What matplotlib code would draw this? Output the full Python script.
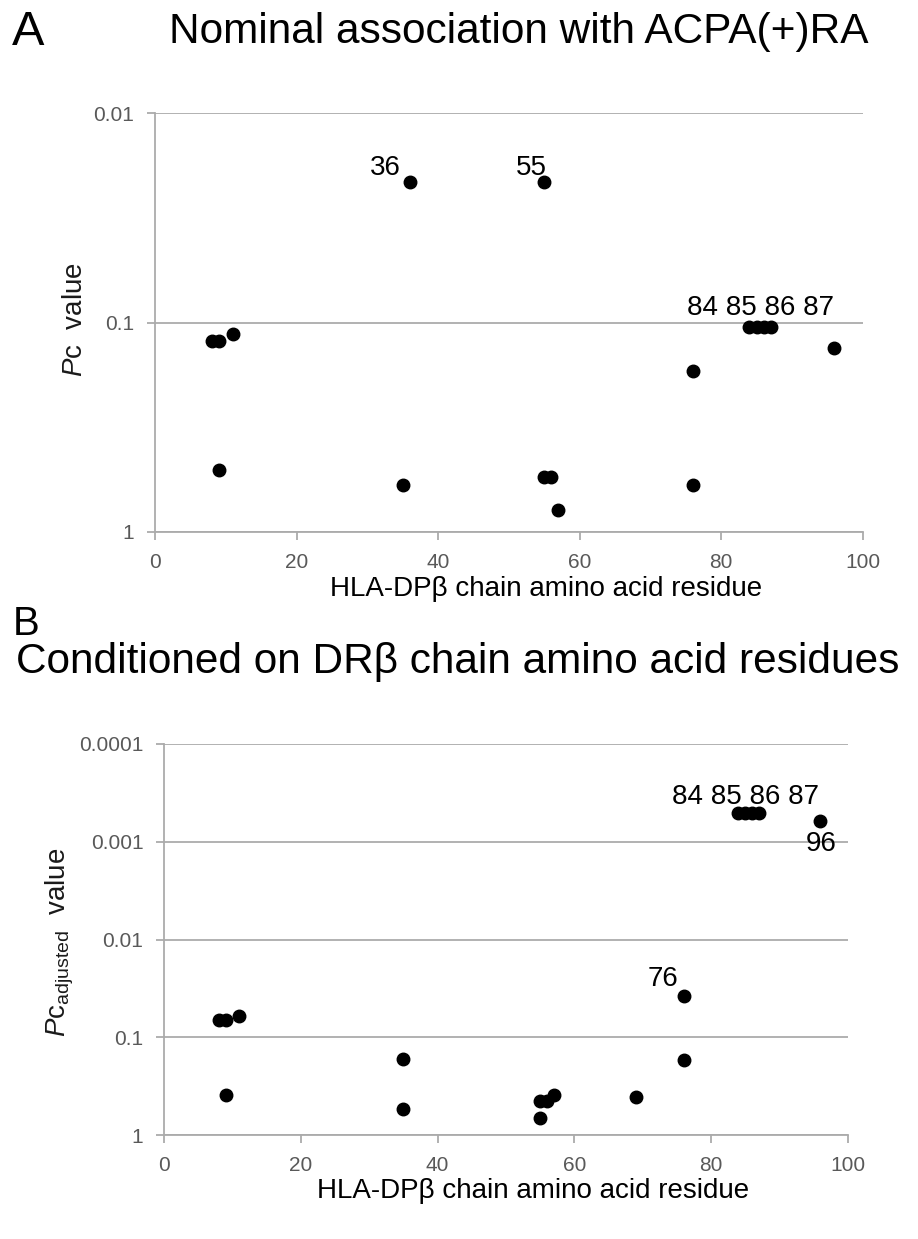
import matplotlib
matplotlib.use("Agg")
import matplotlib.pyplot as plt

plt.rcParams['font.family'] = ['Liberation Sans', 'DejaVu Sans']
plt.rcParams['mathtext.fontset'] = 'custom'
plt.rcParams['mathtext.rm'] = 'Liberation Sans'
plt.rcParams['mathtext.it'] = 'Liberation Sans:italic'

# panel A: nominal association
a_res = [8, 9, 11, 9, 36, 35, 55, 55, 56, 57, 76, 76, 84, 85, 86, 87, 96]
a_pc = [0.123, 0.123, 0.114, 0.505, 0.0214, 0.596, 0.0214, 0.548, 0.548, 0.79,
        0.171, 0.60, 0.105, 0.105, 0.105, 0.105, 0.132]
a_lab = ["36", "55", "84 85 86 87"]
a_lab_x = [36, 55, 85.5]
a_lab_p = [0.0214, 0.0214, 0.105]

# panel B: conditioned on DRb residues
b_res = [8, 9, 11, 9, 35, 35, 55, 56, 57, 55, 69, 76, 76, 84, 85, 86, 87, 96]
b_pc = [0.067, 0.067, 0.061, 0.39, 0.165, 0.54, 0.45, 0.45, 0.385, 0.66, 0.41,
        0.038, 0.169, 0.00051, 0.00051, 0.00051, 0.00051, 0.00062]
b_lab = ["84 85 86 87", "96", "76"]
b_lab_x = [85.5, 96, 76]
b_lab_p = [0.00051, 0.00062, 0.038]

a_ticks = [1, 0.1, 0.01]
a_ticklabels = ["1", "0.1", "0.01"]
b_ticks = [1, 0.1, 0.01, 0.001, 0.0001]
b_ticklabels = ["1", "0.1", "0.01", "0.001", "0.0001"]
x_ticks = [0, 20, 40, 60, 80, 100]

W, H = 918, 1239
fig = plt.figure(figsize=(W / 100, H / 100), dpi=100)

grid = '#ababab'
tickc = '#595959'
fs = 20


def setup(ax, yticks, ylabels):
    ax.set_yscale('log')
    ax.set_xlim(0, 100)
    ax.set_ylim(yticks[0], yticks[-1])
    ax.set_xticks(x_ticks)
    ax.set_yticks(yticks)
    ax.set_yticklabels(ylabels)
    ax.minorticks_off()
    for s in ['top', 'right']:
        ax.spines[s].set_visible(False)
    for s in ['left', 'bottom']:
        ax.spines[s].set_color(grid)
        ax.spines[s].set_linewidth(1.3)
    ax.yaxis.grid(True, color=grid, linewidth=1.3)
    ax.set_axisbelow(True)
    ax.tick_params(axis='both', direction='out', length=6, width=1.3, color=grid,
                   labelcolor=tickc, labelsize=15, pad=9)


# panel A
axA = fig.add_axes([155 / W, 1 - 531.7 / H, (862.7 - 155) / W, (531.7 - 113.3) / H])
setup(axA, a_ticks, a_ticklabels)
axA.plot(a_res, a_pc, 'o', color='black', markersize=9)
a_off = [(-6.5, 5), (1.8, 5), (0, 8.5)]
a_ha = ['right', 'right', 'center']
for t, x, p, o, h in zip(a_lab, a_lab_x, a_lab_p, a_off, a_ha):
    axA.annotate(t, (x, p), xytext=o, textcoords='offset points', ha=h,
                 va='baseline', fontsize=fs)
axA.set_xlabel("HLA-DPβ chain amino acid residue", fontsize=fs)
axA.xaxis.set_label_coords(0.553, -0.105)

# panel B
axB = fig.add_axes([164.3 / W, 1 - 1135.3 / H, (847.7 - 164.3) / W, (1135.3 - 743.7) / H])
setup(axB, b_ticks, b_ticklabels)
axB.plot(b_res, b_pc, 'o', color='black', markersize=9)
b_off = [(-2.5, 6.5), (0.5, -21.5), (-4, 7.7)]
b_ha = ['center', 'center', 'right']
for t, x, p, o, h in zip(b_lab, b_lab_x, b_lab_p, b_off, b_ha):
    axB.annotate(t, (x, p), xytext=o, textcoords='offset points', ha=h,
                 va='baseline', fontsize=fs)
axB.set_xlabel("HLA-DPβ chain amino acid residue", fontsize=fs)
axB.xaxis.set_label_coords(0.54, -0.11)

# y labels
fig.text(75 / W, 1 - 320 / H, r"$P\mathrm{c}$  value", rotation=90,
         ha='center', va='center', fontsize=fs, color='#1a1a1a')
fig.text(60 / W, 1 - 942 / H, r"$P\mathrm{c}_{\mathrm{adjusted}}$  value", rotation=90,
         ha='center', va='center', fontsize=fs, color='#1a1a1a')

# titles
fig.text(12 / W, 1 - 45 / H, "A", fontsize=35, va='baseline', ha='left')
fig.text(519 / W, 1 - 43 / H, "Nominal association with ACPA(+)RA", fontsize=30.5,
         va='baseline', ha='center')
fig.text(13 / W, 1 - 635 / H, "B", fontsize=29, va='baseline', ha='left')
fig.text(458 / W, 1 - 673 / H, "Conditioned on DRβ chain amino acid residues", fontsize=30.5,
         va='baseline', ha='center')

fig.savefig("out.png", dpi=100)
